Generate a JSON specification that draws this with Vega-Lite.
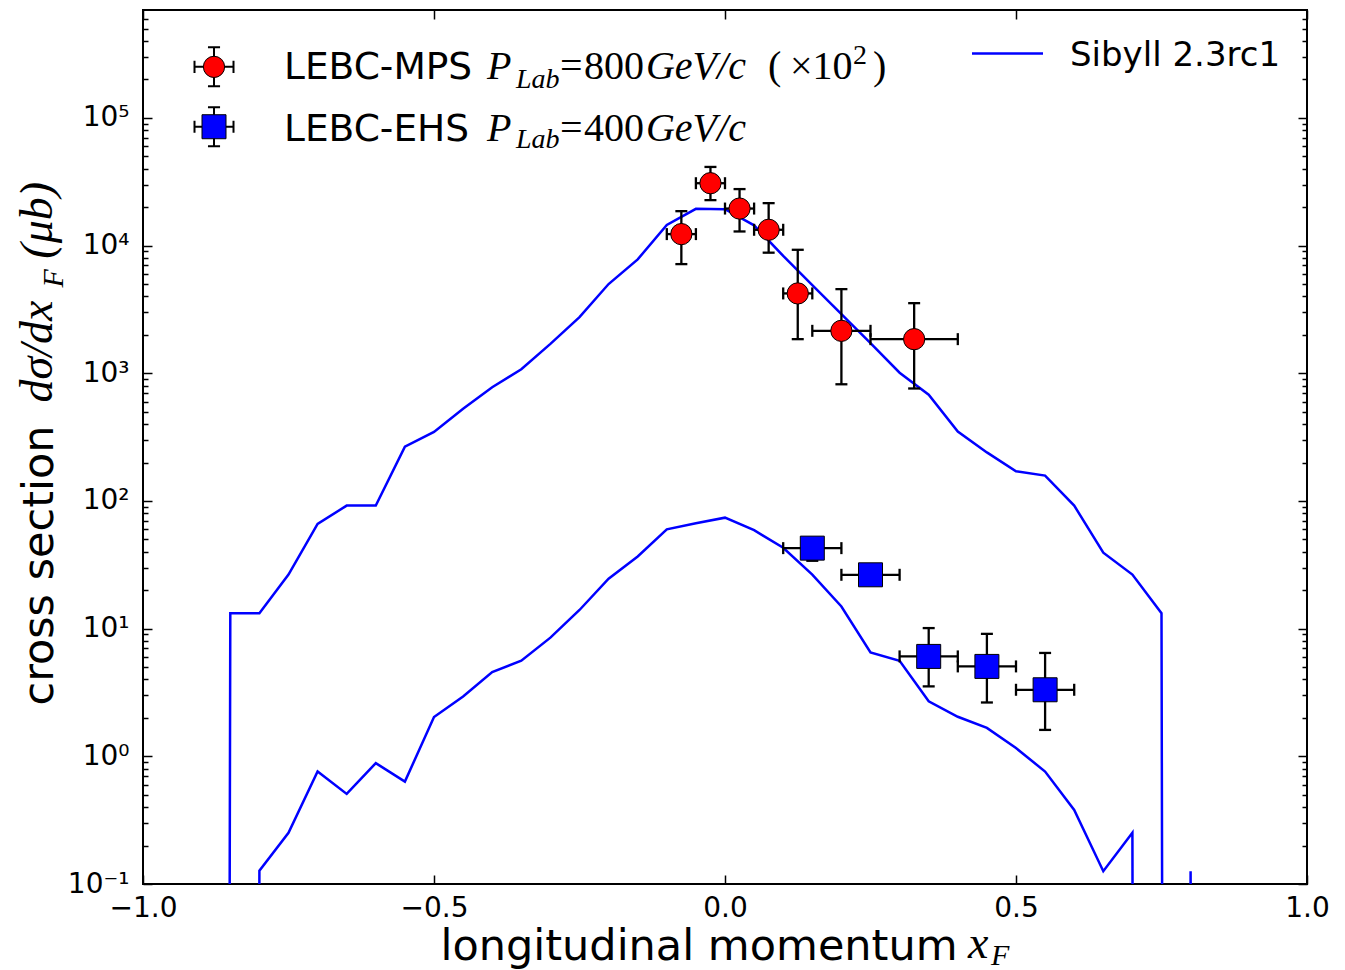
{
  "$schema": "https://vega.github.io/schema/vega-lite/v6.json",
  "width": 1164,
  "height": 874,
  "autosize": {"type": "none"},
  "padding": {"left": 143, "top": 10, "right": 38, "bottom": 86},
  "background": "white",
  "config": {
    "view": {"stroke": "black", "strokeWidth": 2},
    "axis": {"grid": false, "domain": false, "tickColor": "black", "labelColor": "black", "titleColor": "black"},
    "text": {"color": "black", "align": "left", "baseline": "alphabetic"}
  },
  "datasets": {
    "sibyll": [
      {"curve": "800", "xF": -0.9, "dsig": 1e-100},
      {"curve": "800", "xF": -0.85, "dsig": 13.2},
      {"curve": "800", "xF": -0.8, "dsig": 13.2},
      {"curve": "800", "xF": -0.75, "dsig": 26.5},
      {"curve": "800", "xF": -0.7, "dsig": 66},
      {"curve": "800", "xF": -0.65, "dsig": 92},
      {"curve": "800", "xF": -0.6, "dsig": 92},
      {"curve": "800", "xF": -0.55, "dsig": 266},
      {"curve": "800", "xF": -0.5, "dsig": 347},
      {"curve": "800", "xF": -0.45, "dsig": 528},
      {"curve": "800", "xF": -0.4, "dsig": 777},
      {"curve": "800", "xF": -0.35, "dsig": 1076},
      {"curve": "800", "xF": -0.3, "dsig": 1700},
      {"curve": "800", "xF": -0.25, "dsig": 2750},
      {"curve": "800", "xF": -0.2, "dsig": 5000},
      {"curve": "800", "xF": -0.15, "dsig": 7800},
      {"curve": "800", "xF": -0.1, "dsig": 14500},
      {"curve": "800", "xF": -0.05, "dsig": 19400},
      {"curve": "800", "xF": 0.0, "dsig": 19300},
      {"curve": "800", "xF": 0.05, "dsig": 14400},
      {"curve": "800", "xF": 0.1, "dsig": 8300},
      {"curve": "800", "xF": 0.15, "dsig": 4900},
      {"curve": "800", "xF": 0.2, "dsig": 2900},
      {"curve": "800", "xF": 0.25, "dsig": 1720},
      {"curve": "800", "xF": 0.3, "dsig": 1010},
      {"curve": "800", "xF": 0.35, "dsig": 680},
      {"curve": "800", "xF": 0.4, "dsig": 350},
      {"curve": "800", "xF": 0.45, "dsig": 240},
      {"curve": "800", "xF": 0.5, "dsig": 171},
      {"curve": "800", "xF": 0.55, "dsig": 158},
      {"curve": "800", "xF": 0.6, "dsig": 92},
      {"curve": "800", "xF": 0.65, "dsig": 39.3},
      {"curve": "800", "xF": 0.7, "dsig": 26.5},
      {"curve": "800", "xF": 0.75, "dsig": 13.2},
      {"curve": "800", "xF": 0.8, "dsig": 1e-100},
      {"curve": "400", "xF": -0.85, "dsig": 1e-100},
      {"curve": "400", "xF": -0.8, "dsig": 0.127},
      {"curve": "400", "xF": -0.75, "dsig": 0.252},
      {"curve": "400", "xF": -0.7, "dsig": 0.76},
      {"curve": "400", "xF": -0.65, "dsig": 0.508},
      {"curve": "400", "xF": -0.6, "dsig": 0.885},
      {"curve": "400", "xF": -0.55, "dsig": 0.634},
      {"curve": "400", "xF": -0.5, "dsig": 2.03},
      {"curve": "400", "xF": -0.45, "dsig": 2.94},
      {"curve": "400", "xF": -0.4, "dsig": 4.57},
      {"curve": "400", "xF": -0.35, "dsig": 5.61},
      {"curve": "400", "xF": -0.3, "dsig": 8.5},
      {"curve": "400", "xF": -0.25, "dsig": 14},
      {"curve": "400", "xF": -0.2, "dsig": 24.6},
      {"curve": "400", "xF": -0.15, "dsig": 36.7},
      {"curve": "400", "xF": -0.1, "dsig": 60},
      {"curve": "400", "xF": -0.05, "dsig": 67},
      {"curve": "400", "xF": 0.0, "dsig": 74},
      {"curve": "400", "xF": 0.05, "dsig": 59},
      {"curve": "400", "xF": 0.1, "dsig": 43},
      {"curve": "400", "xF": 0.15, "dsig": 26.5},
      {"curve": "400", "xF": 0.2, "dsig": 14.9},
      {"curve": "400", "xF": 0.25, "dsig": 6.5},
      {"curve": "400", "xF": 0.3, "dsig": 5.6},
      {"curve": "400", "xF": 0.35, "dsig": 2.7},
      {"curve": "400", "xF": 0.4, "dsig": 2.04},
      {"curve": "400", "xF": 0.45, "dsig": 1.67},
      {"curve": "400", "xF": 0.5, "dsig": 1.16},
      {"curve": "400", "xF": 0.55, "dsig": 0.76},
      {"curve": "400", "xF": 0.6, "dsig": 0.38},
      {"curve": "400", "xF": 0.65, "dsig": 0.126},
      {"curve": "400", "xF": 0.7, "dsig": 0.252},
      {"curve": "400", "xF": 0.75, "dsig": 1e-100},
      {"curve": "400", "xF": 0.8, "dsig": 0.126},
      {"curve": "400", "xF": 0.85, "dsig": 1e-100}
    ],
    "lebc": [
      {"series": "MPS", "xF": -0.075, "xlo": -0.1, "xhi": -0.05, "dsig": 12300, "ylo": 7160, "yhi": 18600},
      {"series": "MPS", "xF": -0.025, "xlo": -0.05, "xhi": 0.0, "dsig": 30800, "ylo": 22700, "yhi": 41300},
      {"series": "MPS", "xF": 0.025, "xlo": 0.0, "xhi": 0.05, "dsig": 19500, "ylo": 12900, "yhi": 27700},
      {"series": "MPS", "xF": 0.075, "xlo": 0.05, "xhi": 0.1, "dsig": 13300, "ylo": 8800, "yhi": 21500},
      {"series": "MPS", "xF": 0.125, "xlo": 0.1, "xhi": 0.15, "dsig": 4220, "ylo": 1850, "yhi": 9270},
      {"series": "MPS", "xF": 0.2, "xlo": 0.15, "xhi": 0.25, "dsig": 2150, "ylo": 820, "yhi": 4560},
      {"series": "MPS", "xF": 0.325, "xlo": 0.25, "xhi": 0.4, "dsig": 1850, "ylo": 760, "yhi": 3540},
      {"series": "EHS", "xF": 0.15, "xlo": 0.1, "xhi": 0.2, "dsig": 42.7, "ylo": 34, "yhi": 51},
      {"series": "EHS", "xF": 0.25, "xlo": 0.2, "xhi": 0.3, "dsig": 26.4, "ylo": 22.5, "yhi": 30.5},
      {"series": "EHS", "xF": 0.35, "xlo": 0.3, "xhi": 0.4, "dsig": 6.06, "ylo": 3.53, "yhi": 10.1},
      {"series": "EHS", "xF": 0.45, "xlo": 0.4, "xhi": 0.5, "dsig": 5.06, "ylo": 2.64, "yhi": 9.1},
      {"series": "EHS", "xF": 0.55, "xlo": 0.5, "xhi": 0.6, "dsig": 3.32, "ylo": 1.61, "yhi": 6.45}
    ]
  },
  "layer": [
    {
      "layer": [
        {
          "data": {"name": "sibyll"},
          "mark": {"type": "line", "color": "#0000ff", "strokeWidth": 2.5, "clip": true},
          "encoding": {
            "x": {
              "field": "xF", "type": "quantitative",
              "scale": {"domain": [-1, 1], "nice": false, "zero": false},
              "axis": {
                "orient": "bottom",
                "values": [-1, -0.5, 0, 0.5, 1],
                "format": ".1f",
                "labelFont": "DejaVu Sans", "labelFontSize": 28,
                "labelFlush": false, "labelOverlap": false, "labelBound": false,
                "labelPadding": 19,
                "tickSize": -9, "tickWidth": 1.5,
                "title": "longitudinal momentum",
                "titleFont": "DejaVu Sans", "titleFontSize": 43, "titleFontWeight": "normal",
                "titleAlign": "left", "titleAnchor": "start", "titleBaseline": "alphabetic",
                "titleX": 297, "titleY": 75
              }
            },
            "y": {
              "field": "dsig", "type": "quantitative",
              "scale": {"type": "log", "domain": [0.1, 700000], "nice": false},
              "axis": {
                "orient": "left",
                "values": [0.1, 0.2, 0.3, 0.4, 0.5, 0.6, 0.7, 0.8, 0.9, 1, 2, 3, 4, 5, 6, 7, 8, 9, 10, 20, 30, 40, 50, 60, 70, 80, 90, 100, 200, 300, 400, 500, 600, 700, 800, 900, 1000, 2000, 3000, 4000, 5000, 6000, 7000, 8000, 9000, 10000, 20000, 30000, 40000, 50000, 60000, 70000, 80000, 90000, 100000, 200000, 300000, 400000, 500000, 600000],
                "labelExpr": "datum.value == 0.1 ? '10⁻¹' : datum.value == 1 ? '10⁰' : datum.value == 10 ? '10¹' : datum.value == 100 ? '10²' : datum.value == 1000 ? '10³' : datum.value == 10000 ? '10⁴' : datum.value == 100000 ? '10⁵' : ''",
                "labelFont": "DejaVu Sans", "labelFontSize": 28,
                "labelOverlap": false, "labelBound": false, "labelFlush": false,
                "labelPadding": 23,
                "tickSize": {"condition": {"test": "indexof([0.1, 1, 10, 100, 1000, 10000, 100000], datum.value) >= 0", "value": -9}, "value": -5},
                "tickWidth": 1.5,
                "title": "cross section",
                "titleFont": "DejaVu Sans", "titleFontSize": 43, "titleFontWeight": "normal",
                "titleAngle": 270, "titleAlign": "left", "titleAnchor": "start", "titleBaseline": "alphabetic",
                "titleX": -91, "titleY": 695
              }
            },
            "detail": {"field": "curve"}
          }
        },
        {
          "data": {"name": "lebc"},
          "mark": {"type": "rule", "color": "black", "strokeWidth": 2.3},
          "encoding": {
            "x": {"field": "xF", "type": "quantitative"},
            "y": {"field": "ylo", "type": "quantitative"},
            "y2": {"field": "yhi"}
          }
        },
        {
          "data": {"name": "lebc"},
          "mark": {"type": "rule", "color": "black", "strokeWidth": 2.3},
          "encoding": {
            "x": {"field": "xlo", "type": "quantitative"},
            "x2": {"field": "xhi"},
            "y": {"field": "dsig", "type": "quantitative"}
          }
        },
        {
          "data": {"name": "lebc"},
          "mark": {"type": "tick", "orient": "horizontal", "size": 12, "thickness": 2.3, "color": "black", "opacity": 1},
          "encoding": {
            "x": {"field": "xF", "type": "quantitative"},
            "y": {"field": "yhi", "type": "quantitative"}
          }
        },
        {
          "data": {"name": "lebc"},
          "mark": {"type": "tick", "orient": "horizontal", "size": 12, "thickness": 2.3, "color": "black", "opacity": 1},
          "encoding": {
            "x": {"field": "xF", "type": "quantitative"},
            "y": {"field": "ylo", "type": "quantitative"}
          }
        },
        {
          "data": {"name": "lebc"},
          "mark": {"type": "tick", "orient": "vertical", "size": 12, "thickness": 2.3, "color": "black", "opacity": 1},
          "encoding": {
            "x": {"field": "xlo", "type": "quantitative"},
            "y": {"field": "dsig", "type": "quantitative"}
          }
        },
        {
          "data": {"name": "lebc"},
          "mark": {"type": "tick", "orient": "vertical", "size": 12, "thickness": 2.3, "color": "black", "opacity": 1},
          "encoding": {
            "x": {"field": "xhi", "type": "quantitative"},
            "y": {"field": "dsig", "type": "quantitative"}
          }
        },
        {
          "data": {"name": "lebc"},
          "transform": [{"filter": "datum.series == 'MPS'"}],
          "mark": {"type": "point", "shape": "circle", "size": 452, "filled": true, "fill": "#ff0000", "stroke": "black", "strokeWidth": 1, "opacity": 1},
          "encoding": {
            "x": {"field": "xF", "type": "quantitative"},
            "y": {"field": "dsig", "type": "quantitative"}
          }
        },
        {
          "data": {"name": "lebc"},
          "transform": [{"filter": "datum.series == 'EHS'"}],
          "mark": {"type": "point", "shape": "square", "size": 576, "filled": true, "fill": "#0000ff", "stroke": "black", "strokeWidth": 1, "opacity": 1},
          "encoding": {
            "x": {"field": "xF", "type": "quantitative"},
            "y": {"field": "dsig", "type": "quantitative"}
          }
        }
      ]
    },
    {
      "data": {"values": [{}]},
      "layer": [
        {
          "mark": {"type": "rule", "color": "#0000ff", "strokeWidth": 2.5},
          "encoding": {
            "x": {
              "datum": 0.4244, "type": "quantitative",
              "scale": {"domain": [-1, 1], "nice": false, "zero": false},
              "axis": {"orient": "top", "values": [-1, -0.5, 0, 0.5, 1], "labels": false, "tickSize": -9, "tickWidth": 1.5, "title": null}
            },
            "x2": {"datum": 0.5464},
            "y": {
              "datum": 320000, "type": "quantitative",
              "scale": {"type": "log", "domain": [0.1, 700000], "nice": false},
              "axis": {
                "orient": "right",
                "values": [0.1, 0.2, 0.3, 0.4, 0.5, 0.6, 0.7, 0.8, 0.9, 1, 2, 3, 4, 5, 6, 7, 8, 9, 10, 20, 30, 40, 50, 60, 70, 80, 90, 100, 200, 300, 400, 500, 600, 700, 800, 900, 1000, 2000, 3000, 4000, 5000, 6000, 7000, 8000, 9000, 10000, 20000, 30000, 40000, 50000, 60000, 70000, 80000, 90000, 100000, 200000, 300000, 400000, 500000, 600000],
                "labels": false,
                "tickSize": {"condition": {"test": "indexof([0.1, 1, 10, 100, 1000, 10000, 100000], datum.value) >= 0", "value": -9}, "value": -5},
                "tickWidth": 1.5,
                "title": null
              }
            }
          }
        },
        {
          "mark": {"type": "text", "text": "Sibyll 2.3rc1", "font": "DejaVu Sans", "fontSize": 34},
          "encoding": {"x": {"datum": 0.5928}, "y": {"datum": 256000}}
        },
        {
          "mark": {"type": "point", "shape": "M-1,0H1M0,-1V1M-0.31,-1H0.31M-0.31,1H0.31M-1,-0.31V0.31M1,-0.31V0.31", "size": 1521, "filled": false, "stroke": "black", "strokeWidth": 2, "opacity": 1},
          "encoding": {"x": {"datum": -0.878}, "y": {"datum": 251000}}
        },
        {
          "mark": {"type": "point", "shape": "circle", "size": 452, "filled": true, "fill": "#ff0000", "stroke": "black", "strokeWidth": 1, "opacity": 1},
          "encoding": {"x": {"datum": -0.878}, "y": {"datum": 251000}}
        },
        {
          "mark": {"type": "point", "shape": "M-1,0H1M0,-1V1M-0.31,-1H0.31M-0.31,1H0.31M-1,-0.31V0.31M1,-0.31V0.31", "size": 1521, "filled": false, "stroke": "black", "strokeWidth": 2, "opacity": 1},
          "encoding": {"x": {"datum": -0.878}, "y": {"datum": 85300}}
        },
        {
          "mark": {"type": "point", "shape": "square", "size": 576, "filled": true, "fill": "#0000ff", "stroke": "black", "strokeWidth": 1, "opacity": 1},
          "encoding": {"x": {"datum": -0.878}, "y": {"datum": 85300}}
        },
        {
          "mark": {"type": "text", "text": "LEBC-MPS", "font": "DejaVu Sans", "fontSize": 37.5},
          "encoding": {"x": {"datum": -0.7577}, "y": {"datum": 201000}}
        },
        {
          "mark": {"type": "text", "text": "P", "font": "Liberation Serif", "fontStyle": "italic", "fontSize": 40},
          "encoding": {"x": {"datum": -0.4089}, "y": {"datum": 201000}}
        },
        {
          "mark": {"type": "text", "text": "Lab", "font": "Liberation Serif", "fontStyle": "italic", "fontSize": 28},
          "encoding": {"x": {"datum": -0.3591}, "y": {"datum": 171000}}
        },
        {
          "mark": {"type": "text", "text": "=", "font": "Liberation Serif", "fontSize": 40},
          "encoding": {"x": {"datum": -0.2835}, "y": {"datum": 201000}}
        },
        {
          "mark": {"type": "text", "text": "800", "font": "Liberation Serif", "fontSize": 40},
          "encoding": {"x": {"datum": -0.2423}, "y": {"datum": 201000}}
        },
        {
          "mark": {"type": "text", "text": "GeV/c", "font": "Liberation Serif", "fontStyle": "italic", "fontSize": 40},
          "encoding": {"x": {"datum": -0.1358}, "y": {"datum": 201000}}
        },
        {
          "mark": {"type": "text", "text": "(", "font": "Liberation Serif", "fontSize": 40},
          "encoding": {"x": {"datum": 0.0739}, "y": {"datum": 201000}}
        },
        {
          "mark": {"type": "text", "text": "×10", "font": "Liberation Serif", "fontSize": 40},
          "encoding": {"x": {"datum": 0.1117}, "y": {"datum": 201000}}
        },
        {
          "mark": {"type": "text", "text": "2", "font": "Liberation Serif", "fontSize": 28},
          "encoding": {"x": {"datum": 0.2199}, "y": {"datum": 265000}}
        },
        {
          "mark": {"type": "text", "text": ")", "font": "Liberation Serif", "fontSize": 40},
          "encoding": {"x": {"datum": 0.2543}, "y": {"datum": 201000}}
        },
        {
          "mark": {"type": "text", "text": "LEBC-EHS", "font": "DejaVu Sans", "fontSize": 37.5},
          "encoding": {"x": {"datum": -0.7577}, "y": {"datum": 66400}}
        },
        {
          "mark": {"type": "text", "text": "P", "font": "Liberation Serif", "fontStyle": "italic", "fontSize": 40},
          "encoding": {"x": {"datum": -0.4089}, "y": {"datum": 66400}}
        },
        {
          "mark": {"type": "text", "text": "Lab", "font": "Liberation Serif", "fontStyle": "italic", "fontSize": 28},
          "encoding": {"x": {"datum": -0.3591}, "y": {"datum": 58100}}
        },
        {
          "mark": {"type": "text", "text": "=", "font": "Liberation Serif", "fontSize": 40},
          "encoding": {"x": {"datum": -0.2835}, "y": {"datum": 66400}}
        },
        {
          "mark": {"type": "text", "text": "400", "font": "Liberation Serif", "fontSize": 40},
          "encoding": {"x": {"datum": -0.2423}, "y": {"datum": 66400}}
        },
        {
          "mark": {"type": "text", "text": "GeV/c", "font": "Liberation Serif", "fontStyle": "italic", "fontSize": 40},
          "encoding": {"x": {"datum": -0.1358}, "y": {"datum": 66400}}
        },
        {
          "mark": {"type": "text", "text": "x", "font": "Liberation Serif", "fontStyle": "italic", "fontSize": 46, "clip": false},
          "encoding": {"x": {"datum": 0.4175}, "y": {"datum": 0.02635}}
        },
        {
          "mark": {"type": "text", "text": "F", "font": "Liberation Serif", "fontStyle": "italic", "fontSize": 30, "clip": false},
          "encoding": {"x": {"datum": 0.457}, "y": {"datum": 0.0232}}
        },
        {
          "mark": {"type": "text", "text": "dσ/dx", "font": "Liberation Serif", "fontStyle": "italic", "fontSize": 46, "angle": 270, "clip": false},
          "encoding": {"x": {"datum": -1.1564}, "y": {"datum": 591}}
        },
        {
          "mark": {"type": "text", "text": "F", "font": "Liberation Serif", "fontStyle": "italic", "fontSize": 30, "angle": 270, "clip": false},
          "encoding": {"x": {"datum": -1.1375}, "y": {"datum": 4700}}
        },
        {
          "mark": {"type": "text", "text": "(μb)", "font": "Liberation Serif", "fontStyle": "italic", "fontSize": 46, "angle": 270, "clip": false},
          "encoding": {"x": {"datum": -1.1564}, "y": {"datum": 7900}}
        }
      ]
    }
  ],
  "resolve": {"axis": {"x": "independent", "y": "independent"}}
}
